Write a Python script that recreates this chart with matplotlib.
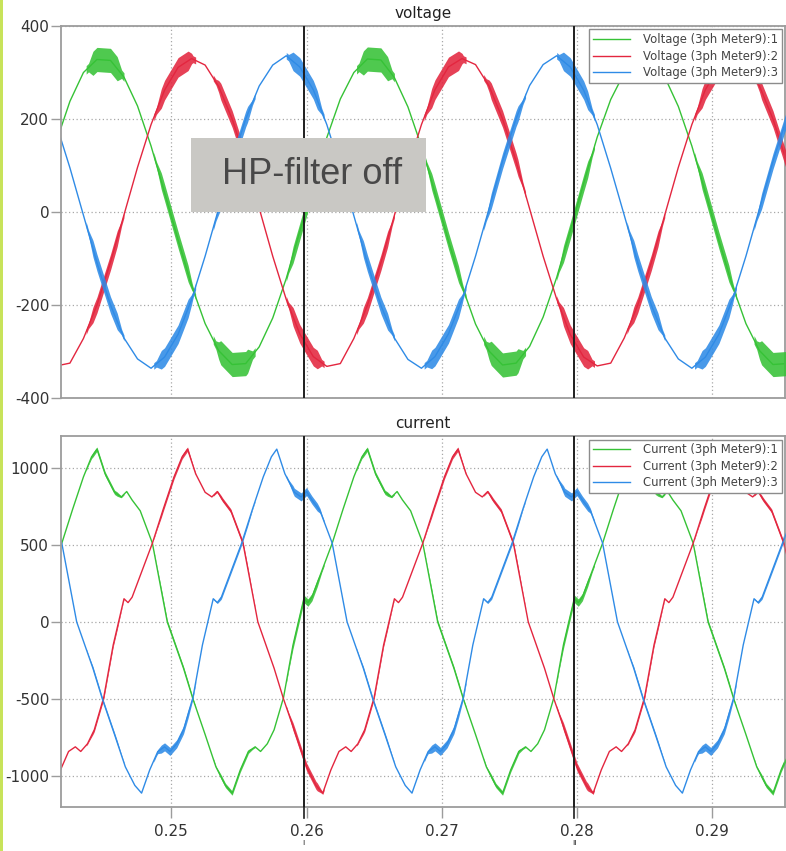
import numpy as np
import matplotlib
matplotlib.use("Agg")
import matplotlib.pyplot as plt
from matplotlib.patches import Rectangle
from matplotlib import font_manager

plt.rcParams['axes.unicode_minus'] = False
plt.rcParams['font.family'] = ['DejaVu Sans']

# ---------------- data ----------------
series_names_v = ["Voltage (3ph Meter9):1", "Voltage (3ph Meter9):2", "Voltage (3ph Meter9):3"]
series_names_i = ["Current (3ph Meter9):1", "Current (3ph Meter9):2", "Current (3ph Meter9):3"]

# voltage sample times (s), 1 ms step
t_v = np.round(np.arange(0.2415, 0.2960, 0.001), 4)

v1 = [152, 238, 300, 328, 326, 290, 228, 142, 42, -60, -158, -240, -298, -328, -326, -290, -228, -143, -42, 60,
      160, 243, 300, 329, 327, 289, 226, 141, 41, -62, -159, -241, -299, -329, -325, -289, -226, -141, -41, 62,
      161, 242, 299, 328, 326, 290, 227, 142, 42, -61, -158, -240, -298, -328, -326]
v2 = [-331, -325, -272, -200, -108, -6, 96, 188, 262, 311, 330, 316, 270, 200, 110, 8, -95, -188, -262, -311,
      -332, -326, -272, -201, -109, -7, 95, 188, 263, 312, 330, 317, 271, 200, 109, 7, -95, -187, -263, -312,
      -331, -325, -271, -200, -109, -6, 96, 188, 263, 312, 330, 316, 271, 200, 109]
v3 = [188, 95, -7, -109, -200, -271, -316, -336, -312, -263, -188, -95, 7, 109, 200, 271, 316, 336, 312, 263,
      188, 95, -8, -110, -201, -271, -317, -336, -311, -262, -188, -95, 7, 110, 201, 272, 317, 336, 312, 262,
      188, 94, -7, -109, -200, -271, -316, -336, -312, -263, -188, -95, 7, 109, 200]

# current key points (time s, value A)
t_i1 = [0.2410, 0.2419, 0.2427, 0.2435, 0.2441, 0.2445, 0.2451, 0.2458, 0.2463, 0.2467, 0.2471, 0.2477, 0.2486,
        0.2497, 0.2509, 0.2516, 0.2525, 0.2533, 0.2540, 0.2545, 0.2551, 0.2557, 0.2562, 0.2566,
        0.2571, 0.2576, 0.2583, 0.2590,
        0.2594, 0.2598, 0.2601, 0.2604, 0.2610, 0.2619, 0.2627, 0.2635, 0.2641, 0.2645, 0.2651, 0.2658, 0.2663,
        0.2667, 0.2671, 0.2677, 0.2686, 0.2697, 0.2709, 0.2716, 0.2725, 0.2733, 0.2740, 0.2745,
        0.2751, 0.2757, 0.2762, 0.2766, 0.2771, 0.2776, 0.2783, 0.2790,
        0.2794, 0.2798, 0.2801, 0.2804, 0.2810, 0.2819, 0.2827, 0.2835, 0.2841, 0.2845, 0.2851, 0.2858, 0.2863,
        0.2867, 0.2871, 0.2877, 0.2886, 0.2897, 0.2909, 0.2916, 0.2925, 0.2933, 0.2940, 0.2945,
        0.2951, 0.2957]
i1 = [300, 510, 730, 940, 1070, 1120, 960, 840, 810, 845, 790, 720, 510,
      0, -300, -500, -730, -940, -1060, -1110, -960, -840, -810, -840,
      -790, -700, -490, -150,
      0, 150, 125, 160, 300, 510, 730, 940, 1070, 1120, 960, 840, 810,
      845, 790, 720, 510, 0, -300, -500, -730, -940, -1060, -1110,
      -960, -840, -810, -840, -790, -700, -490, -150,
      0, 150, 125, 160, 300, 510, 730, 940, 1070, 1120, 960, 840, 810,
      845, 790, 720, 510, 0, -300, -500, -730, -940, -1060, -1110,
      -960, -840]

t_i2 = [0.2407, 0.2412, 0.2418, 0.2424, 0.2429, 0.2433, 0.2438, 0.2443, 0.2450, 0.2457,
        0.2461, 0.2465, 0.2468, 0.2471, 0.2477, 0.2486, 0.2494, 0.2502, 0.2508, 0.2512, 0.2518, 0.2525, 0.2530,
        0.2534, 0.2538, 0.2544, 0.2553, 0.2564, 0.2576, 0.2583, 0.2592, 0.2600, 0.2607, 0.2612,
        0.2618, 0.2624, 0.2629, 0.2633, 0.2638, 0.2643, 0.2650, 0.2657,
        0.2661, 0.2665, 0.2668, 0.2671, 0.2677, 0.2686, 0.2694, 0.2702, 0.2708, 0.2712, 0.2718, 0.2725, 0.2730,
        0.2734, 0.2738, 0.2744, 0.2753, 0.2764, 0.2776, 0.2783, 0.2792, 0.2800, 0.2807, 0.2812,
        0.2818, 0.2824, 0.2829, 0.2833, 0.2838, 0.2843, 0.2850, 0.2857,
        0.2861, 0.2865, 0.2868, 0.2871, 0.2877, 0.2886, 0.2894, 0.2902, 0.2908, 0.2912, 0.2918, 0.2925, 0.2930,
        0.2934, 0.2938, 0.2944, 0.2953, 0.2964]
i2 = [-1060, -1110, -960, -840, -810, -840, -790, -700, -490, -150,
      0, 150, 125, 160, 300, 510, 730, 940, 1070, 1120, 960, 840, 810,
      845, 790, 720, 510, 0, -300, -500, -730, -940, -1060, -1110,
      -960, -840, -810, -840, -790, -700, -490, -150,
      0, 150, 125, 160, 300, 510, 730, 940, 1070, 1120, 960, 840, 810,
      845, 790, 720, 510, 0, -300, -500, -730, -940, -1060, -1110,
      -960, -840, -810, -840, -790, -700, -490, -150,
      0, 150, 125, 160, 300, 510, 730, 940, 1070, 1120, 960, 840, 810,
      845, 790, 720, 510, 0]

t_i3 = [0.2404, 0.2410, 0.2419, 0.2430, 0.2442, 0.2449, 0.2458, 0.2466, 0.2473, 0.2478,
        0.2484, 0.2490, 0.2495, 0.2499, 0.2504, 0.2509, 0.2516, 0.2523,
        0.2527, 0.2531, 0.2534, 0.2537, 0.2543, 0.2552, 0.2560, 0.2568, 0.2574, 0.2578, 0.2584, 0.2591, 0.2596,
        0.2600, 0.2604, 0.2610, 0.2619, 0.2630, 0.2642, 0.2649, 0.2658, 0.2666, 0.2673, 0.2678,
        0.2684, 0.2690, 0.2695, 0.2699, 0.2704, 0.2709, 0.2716, 0.2723,
        0.2727, 0.2731, 0.2734, 0.2737, 0.2743, 0.2752, 0.2760, 0.2768, 0.2774, 0.2778, 0.2784, 0.2791, 0.2796,
        0.2800, 0.2804, 0.2810, 0.2819, 0.2830, 0.2842, 0.2849, 0.2858, 0.2866, 0.2873, 0.2878,
        0.2884, 0.2890, 0.2895, 0.2899, 0.2904, 0.2909, 0.2916, 0.2923,
        0.2927, 0.2931, 0.2934, 0.2937, 0.2943, 0.2952, 0.2960]
i3 = [790, 720, 510, 0, -300, -500, -730, -940, -1060, -1110,
      -960, -840, -810, -840, -790, -700, -490, -150,
      0, 150, 125, 160, 300, 510, 730, 940, 1070, 1120, 960, 840, 810,
      845, 790, 720, 510, 0, -300, -500, -730, -940, -1060, -1110,
      -960, -840, -810, -840, -790, -700, -490, -150,
      0, 150, 125, 160, 300, 510, 730, 940, 1070, 1120, 960, 840, 810,
      845, 790, 720, 510, 0, -300, -500, -730, -940, -1060, -1110,
      -960, -840, -810, -840, -790, -700, -490, -150,
      0, 150, 125, 160, 300, 510, 730]

# time windows where the switching ripple is visible, and its half-height per series
ripple_start = [0.2437, 0.2487, 0.2531, 0.2585, 0.2637, 0.2687, 0.2731, 0.2785, 0.2837, 0.2887, 0.2931]
ripple_end = [0.2465, 0.2518, 0.2562, 0.2613, 0.2665, 0.2718, 0.2762, 0.2813, 0.2865, 0.2918, 0.2962]
rip_v1 = [26, 18, 26, 18, 26, 18, 26, 18, 26, 18, 26]
rip_v2 = [17, 21, 18, 20, 17, 21, 18, 20, 17, 21, 18]
rip_v3 = [18, 20, 17, 20, 18, 20, 17, 20, 18, 20, 17]
rip_i1 = [14, 12, 14, 24, 14, 12, 14, 24, 14, 12, 14]
rip_i2 = [12, 14, 13, 26, 12, 14, 13, 26, 12, 14, 13]
rip_i3 = [12, 26, 12, 26, 12, 26, 12, 26, 12, 26, 12]

cursors = [0.2598, 0.2798]
cursor_marks = ["ı", "ıı"]
x_ticks = [0.25, 0.26, 0.27, 0.28, 0.29]
v_ticks = [-400, -200, 0, 200, 400]
i_ticks = [-1000, -500, 0, 500, 1000]
box_text = "HP-filter off"

# ---------------- style ----------------
colors = ['#36c236', '#e3263f', '#2f8be6']
spine_c = '#9c9c9c'
W, H = 786, 851

fig = plt.figure(figsize=(W / 100, H / 100), dpi=100)
fig.patches.append(Rectangle((0, 0), 2.5 / W, 1, transform=fig.transFigure,
                             facecolor='#c8e35a', edgecolor='none', zorder=0))

ax1 = fig.add_axes([61 / W, 1 - 398 / H, 724 / W, 372 / H])
ax2 = fig.add_axes([61 / W, 1 - 807 / H, 724 / W, 371 / H], sharex=ax1)


def ripple(ax, t, v, amps, color):
    """Draw the switching-ripple band along a series inside each ripple window."""
    for s, e, a in zip(ripple_start, ripple_end, amps):
        tt = np.linspace(s, e, 120)
        vv = np.interp(tt, t, v)
        edge = 0.18 * (e - s)
        taper = np.clip(np.minimum(tt - s, e - tt) / edge, 0.35, 1.0)
        aa = a * taper
        ax.fill_between(tt, vv - aa, vv + aa, color=color, lw=0, alpha=0.88, zorder=3)


for ax in (ax1, ax2):
    for sp in ax.spines.values():
        sp.set_color(spine_c)
        sp.set_linewidth(1.3)
    ax.grid(True, linestyle=(0, (1, 2)), color='#a8a8a8', lw=0.9, zorder=1)
    ax.tick_params(direction='out', length=7, width=1, color=spine_c,
                   labelsize=11, labelcolor='#333333')
    ax.tick_params(axis='y', pad=1.5)
    ax.tick_params(axis='x', length=8, pad=4)
    for c in cursors:
        ax.axvline(c, color='#1e1e1e', lw=1.4, zorder=4)

for t, v, r, col, name in zip([t_v] * 3, [v1, v2, v3], [rip_v1, rip_v2, rip_v3], colors, series_names_v):
    ax1.plot(t, v, color=col, lw=1.0, zorder=2, label=name)
    ripple(ax1, t, v, r, col)

for t, v, r, col, name in zip([t_i1, t_i2, t_i3], [i1, i2, i3], [rip_i1, rip_i2, rip_i3], colors, series_names_i):
    ax2.plot(t, v, color=col, lw=1.0, zorder=2, label=name)
    ripple(ax2, t, v, r, col)

ax1.set_xlim(0.24184, 0.29539)
ax1.set_ylim(-400, 400)
ax2.set_ylim(-1200, 1205)
ax1.set_xticks(x_ticks)
ax1.set_yticks(v_ticks)
ax2.set_yticks(i_ticks)
ax2.set_xticklabels([f"{x:.2f}" for x in x_ticks])
ax1.tick_params(axis='x', bottom=False, labelbottom=False)

ax1.set_title('voltage', fontsize=11, color='#222222', pad=6)
ax2.set_title('current', fontsize=11, color='#222222', pad=6)

for ax in (ax1, ax2):
    leg = ax.legend(loc='upper right', fontsize=8.4, frameon=True, fancybox=False,
                    edgecolor='#8c8c8c', framealpha=1, borderaxespad=0.3,
                    handlelength=3.2, handletextpad=1.1, labelspacing=0.32, borderpad=0.3)
    leg.get_frame().set_linewidth(1.0)
    leg.set_zorder(10)
    for txt in leg.get_texts():
        txt.set_color('#444444')

# cursor markers below the lower axes
for c, m in zip(cursors, cursor_marks):
    ax2.plot([c, c], [-1200, -1270], color='#1e1e1e', lw=1.2, clip_on=False, zorder=4)
    ax2.text(c, -1430, m, ha='center', va='center', fontsize=6, color='#333333')

# "HP-filter off" label box
names = {f.name for f in font_manager.fontManager.ttflist}
if 'Liberation Sans Narrow' in names:
    box_family, box_size = ['Liberation Sans Narrow'], 31
else:
    box_family, box_size = ['Liberation Sans'], 26
ax1.add_patch(Rectangle((0.25144, 0), 0.26881 - 0.25144, 160, facecolor='#c9c8c4',
                        edgecolor='none', zorder=6))
ax1.text((0.25144 + 0.26881) / 2 + 0.0003, 80, box_text, ha='center', va='center',
         fontsize=box_size, family=box_family, color='#484848', zorder=7)

fig.savefig('out.png', dpi=100)
